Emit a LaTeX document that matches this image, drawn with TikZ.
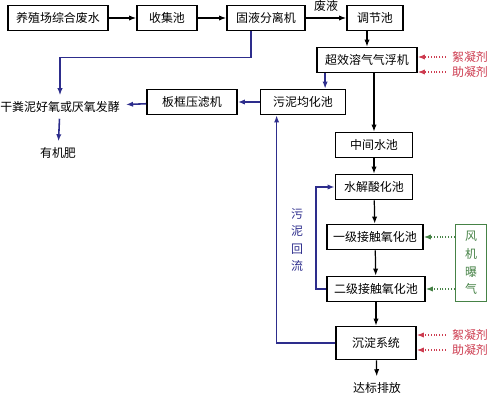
\documentclass[tikz,border=0pt]{standalone}
\usepackage{fontspec}
\setmainfont{Noto Sans CJK SC}
\usetikzlibrary{arrows.meta}
\definecolor{sludgeblue}{RGB}{45,45,140}
\definecolor{dosered}{RGB}{205,60,80}
\definecolor{airgreen}{RGB}{70,130,70}
\tikzset{
  unit/.style={draw, line width=1pt, fill=white, minimum height=0.5cm, inner sep=1pt},
  flow/.style={line width=0.7pt, -{Latex[length=4pt,width=3pt]}},
  sludge/.style={flow, sludgeblue, line width=0.9pt},
  dose/.style={dosered, densely dotted, line width=0.6pt, -{Latex[length=4pt,width=3pt]}},
  air/.style={airgreen, densely dotted, line width=0.6pt, -{Latex[length=4pt,width=3pt]}}
}
\begin{document}
\begin{tikzpicture}[x=0.02cm, y=-0.02cm, every node/.style={font=\fontsize{6.8}{9}\selectfont}]
    \useasboundingbox (0,0) rectangle (500,400);

    \node[unit, minimum width=2.0cm] (feed) at (58,18) {养殖场综合废水};
    \node[unit, minimum width=1.2cm] (collect) at (167,18) {收集池};
    \node[unit, minimum width=1.56cm] (separ) at (266,18) {固液分离机};
    \node[unit, minimum width=1.12cm] (adjust) at (375,18) {调节池};
    \node[unit, minimum width=2.0cm] (flot) at (367,60) {超效溶气气浮机};
    \node[unit, minimum width=1.7cm] (homog) at (303,102) {污泥均化池};
    \node[unit, minimum width=1.8cm] (press) at (192,102) {板框压滤机};
    \node (dung) at (60,107) {干粪泥好氧或厌氧发酵};
    \node (fert) at (58,153) {有机肥};
    \node[unit, minimum width=1.54cm] (mid) at (374,145) {中间水池};
    \node[unit, minimum width=1.54cm] (hydro) at (374,187) {水解酸化池};
    \node[unit, minimum width=1.92cm] (ox1) at (375,237) {一级接触氧化池};
    \node[unit, minimum width=1.96cm] (ox2) at (376,289) {二级接触氧化池};
    \node[unit, minimum width=1.6cm, minimum height=0.66cm] (settle) at (376,343) {沉淀系统};
    \node (out) at (377,388) {达标排放};
    \node[draw, airgreen, line width=1pt, minimum width=0.62cm, minimum height=1.54cm,
          align=center, font=\fontsize{6.8}{10}\selectfont] (fan) at (471,263) {风\\机\\曝\\气};

    \node[dosered] (floc1) at (470,57) {絮凝剂};
    \node[dosered] (aid1) at (470,72) {助凝剂};
    \node[dosered] (floc2) at (470,335) {絮凝剂};
    \node[dosered] (aid2) at (470,350) {助凝剂};
    \node[sludgeblue, align=center, font=\fontsize{6.8}{10}\selectfont] (ret) at (297,240) {污\\泥\\回\\流};

    \draw[flow] (feed) -- (collect);
    \draw[flow] (collect) -- (separ);
    \draw[flow] (separ) -- node[above] {废液} (adjust);
    \draw[flow] (adjust.south -| flot.north) -- (flot.north);
    \draw[flow] (flot.south -| mid.north) -- (mid.north);
    \draw[flow] (mid) -- (hydro);
    \draw[flow] (hydro) -- (ox1);
    \draw[flow] (ox1) -- (ox2);
    \draw[flow] (ox2) -- (settle);
    \draw[flow] (settle) -- (out);

    \draw[sludge] ([xshift=0.18cm]flot.south west) -- ([xshift=0.18cm]flot.south west |- homog.north);
    \draw[sludge] (homog) -- (press);
    \draw[sludge] (press) -- (dung);
    \draw[sludge] ([xshift=0.5cm]separ.south west) -- ++(0,26) -| (dung.north);
    \draw[sludge] (dung) -- (fert);
    \draw[sludge] (settle.west) -| ([xshift=0.34cm]homog.south west);
    \draw[sludge] (ox2.west) -- ++(-10,0) |- (hydro.west);

    \draw[air] (fan.west |- ox1) -- (ox1.east);
    \draw[air] (fan.west |- ox2) -- (ox2.east);

    \draw[dose] (floc1.west) -- (floc1.west -| flot.east);
    \draw[dose] (aid1.west) -- (aid1.west -| flot.east);
    \draw[dose] (floc2.west) -- (floc2.west -| settle.east);
    \draw[dose] (aid2.west) -- (aid2.west -| settle.east);
\end{tikzpicture}
\end{document}
